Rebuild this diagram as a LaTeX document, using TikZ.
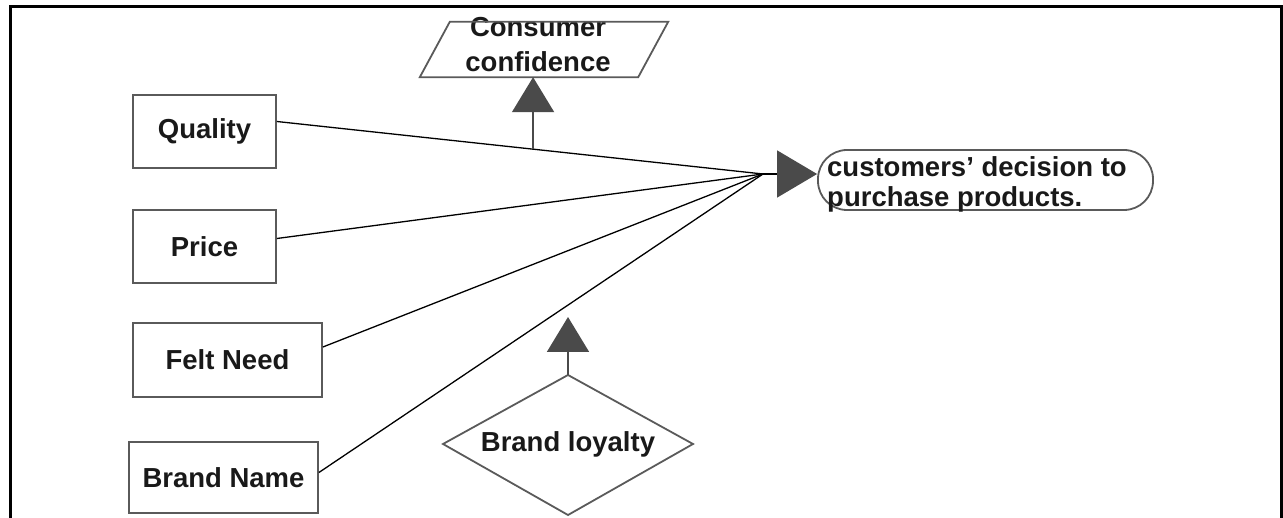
\documentclass[tikz,border=0pt]{standalone}
\usepackage{fontspec}
\setmainfont{Liberation Sans}
\usetikzlibrary{arrows.meta,calc}
\definecolor{edgegray}{HTML}{5A5A5A}
\definecolor{tipgray}{HTML}{4A4A4A}
\begin{document}
\begin{tikzpicture}[x=1pt,y=-1pt,
  lbl/.style={font=\fontsize{27.5}{28}\selectfont\bfseries, text=black!90, inner sep=0pt},
  factor/.style={lbl, draw=edgegray, line width=1.8pt},
  outline/.style={draw=edgegray, line width=1.8pt},
  link/.style={line width=1.3pt, black},
  bigtip/.style={-{Triangle[length=40pt,width=47pt,fill=tipgray,color=tipgray]}},
  uptip/.style={draw=tipgray, line width=1.8pt, -{Triangle[length=35pt,width=42pt,fill=tipgray,color=tipgray]}},
]
\useasboundingbox (0,0) rectangle (1283,518);
% frame
\draw[line width=3pt, black] (10,518) -- (10,7) -- (1281,7) -- (1281,518);

% factor boxes
\node[factor, minimum width=143pt, minimum height=73pt] (quality) at (204.5,131.5) {Quality};
\node[factor, minimum width=143pt, minimum height=73pt] (price) at (204.5,246.5) {Price};
\node[factor, minimum width=189pt, minimum height=74pt] (felt) at (227.5,360) {Felt Need};
\node[factor, minimum width=189pt, minimum height=71pt] (bname) at (223.5,477.5) {Brand Name};

% outcome
\node[outline, rounded corners=29pt, minimum width=335pt, minimum height=60pt, inner sep=0pt] (dec) at (985.5,180) {};
\node[lbl, font=\fontsize{27.5}{30}\selectfont\bfseries, align=left, anchor=west] (dectext) at (827,184)
      {customers' decision to\\purchase products.};

% consumer confidence (parallelogram)
\node[lbl, minimum width=248pt, minimum height=55pt] (cc) at (544,49.5) {};
\node[lbl, font=\fontsize{27.5}{35}\selectfont\bfseries, align=center] (cctext) at (538,45) {Consumer\\confidence};
\draw[outline] ($(cc.north west)+(30,0)$) -- (cc.north east) -- ($(cc.south east)+(-30,0)$) -- (cc.south west) -- cycle;

% brand loyalty (diamond)
\node[lbl] (bl) at (568,444) {Brand loyalty};
\coordinate (bltop) at ($(bl)+(0,-69)$);
\draw[outline] (bltop) -- ($(bl)+(125,0)$) -- ($(bl)+(0,71)$) -- ($(bl)+(-125,0)$) -- cycle;

% convergence point
\coordinate (J) at (763,174);

% connectors
\coordinate (qs) at ($(quality.east)+(0,-10)$);
\draw[link] (qs) -- (J);
\draw[link] ($(price.east)+(0,-8)$) -- (J);
\draw[link] ($(felt.east)+(0,-13)$) -- (J);
\draw[link] ($(bname.east)+(0,-5)$) -- (J);
\draw[link, bigtip] (J) -- (J -| dec.west);

% moderators
\coordinate (q1) at ($(qs)!0.527!(J)$);
\draw[uptip] (q1) -- (q1 |- cc.south);
\coordinate (bltip) at ($(bltop)+(0,-58)$);
\draw[uptip] (bltop) -- (bltip);
\end{tikzpicture}
\end{document}
